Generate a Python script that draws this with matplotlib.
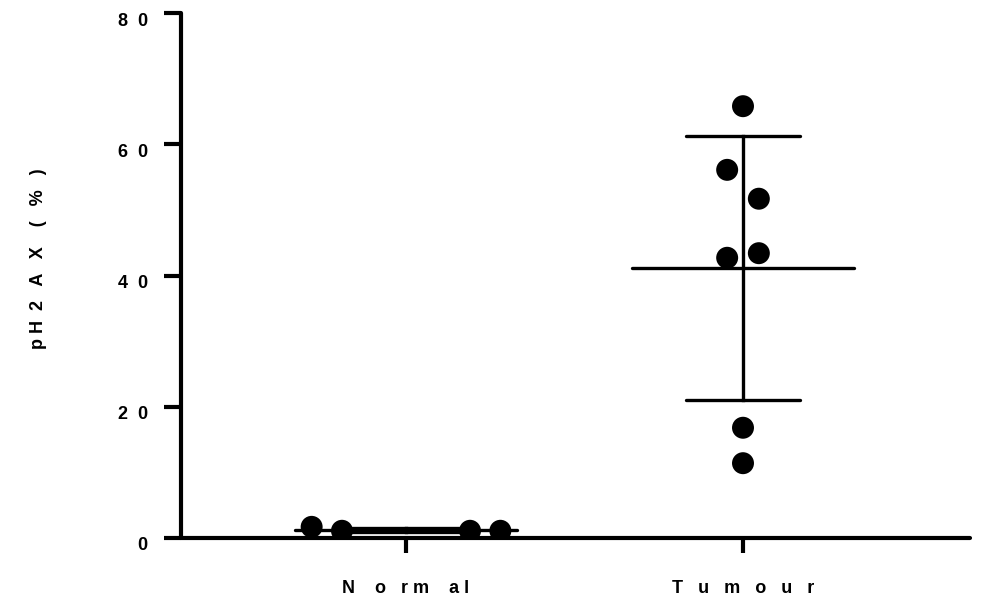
import numpy as np
import matplotlib
matplotlib.use('Agg')
import matplotlib.pyplot as plt
import matplotlib.transforms as mtransforms

# valores (pH2AX %)
grupos = ['N    o   r m    a l', 'T   u   m   o   u   r']
normal = [1.7, 1.1, 1.1, 1.1]
tumour = [65.8, 56.1, 51.7, 42.7, 43.4, 16.8, 11.4]
# desplazamiento horizontal de los puntos (disposición tipo enjambre)
dx_normal = [-0.28, -0.19, 0.19, 0.28]
dx_tumour = [0.0, -0.047, 0.047, -0.047, 0.047, 0.0, 0.0]
yticks = [0, 20, 40, 60, 80]
ytick_labels = ['0', '2  0', '4  0', '6  0', '8  0']

plt.rcParams['font.family'] = ['Liberation Sans', 'DejaVu Sans']
plt.rcParams['font.weight'] = 'bold'

fig = plt.figure(figsize=(9.87, 6.06), dpi=100)
ax = fig.add_axes([181 / 987, 68 / 606, 789 / 987, 525 / 606])

for i, (vals, dx) in enumerate([(normal, dx_normal), (tumour, dx_tumour)]):
    pos = i + 1
    vals = np.array(vals)
    media = vals.mean()
    sd = vals.std(ddof=1)
    # media y desviación estándar
    ax.plot([pos - 0.33, pos + 0.33], [media, media], color='black', lw=2.4,
            solid_capstyle='round', zorder=2)
    ax.plot([pos, pos], [media - sd, media + sd], color='black', lw=2.4, zorder=2)
    for y in (media - sd, media + sd):
        ax.plot([pos - 0.17, pos + 0.17], [y, y], color='black', lw=2.4,
                solid_capstyle='round', zorder=2)
    ax.scatter(pos + np.array(dx), vals, s=250, color='black', zorder=3,
               edgecolors='none')

ax.set_xlim(1 - 225 / 337, 2 + 227 / 337)
ax.set_ylim(0, 80)
ax.set_xticks([1, 2])
ax.set_xticklabels(grupos, fontsize=13, fontweight='bold')
ax.set_yticks(yticks)
ax.set_yticklabels(ytick_labels, fontsize=13, fontweight='bold')

for lado in ['top', 'right']:
    ax.spines[lado].set_visible(False)
for lado in ['left', 'bottom']:
    ax.spines[lado].set_linewidth(3)
    ax.spines[lado].set_capstyle('round')
ax.tick_params(axis='y', length=12, width=3, pad=12)
ax.tick_params(axis='x', length=11, width=3, pad=19)
ax.patch.set_visible(False)
for tl in ax.get_xticklines() + ax.get_yticklines():
    tl.set_solid_capstyle('round')

# las etiquetas del eje y quedan un poco por debajo de cada marca
bajar = mtransforms.ScaledTranslation(0, -6 / 100, fig.dpi_scale_trans)
for lab in ax.get_yticklabels():
    lab.set_transform(lab.get_transform() + bajar)

fig.text(39 / 987, 1 - 259 / 606, 'p H  2   A   X    (   %   )', rotation=90,
         ha='center', va='center', fontsize=13, fontweight='bold')

fig.savefig('out.png', dpi=100)
